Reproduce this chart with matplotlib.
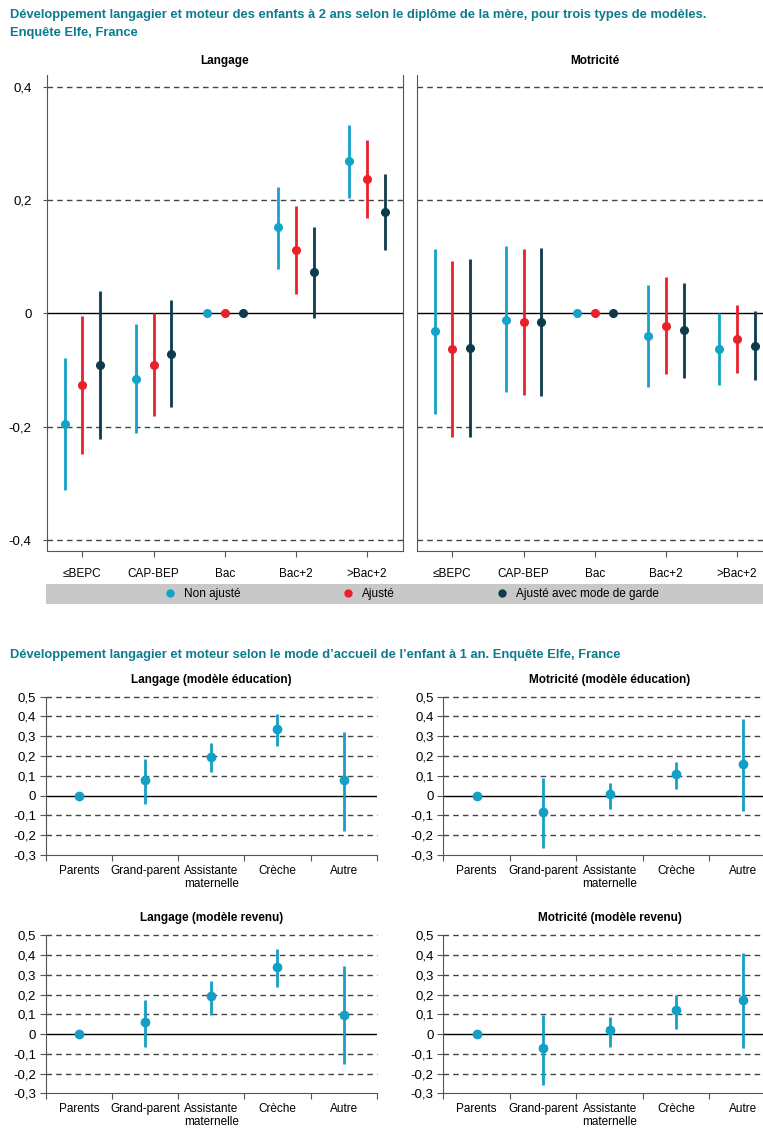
import matplotlib
matplotlib.use('Agg')
import matplotlib.pyplot as plt
from matplotlib import font_manager
from matplotlib.lines import Line2D
import numpy as np

# --- data : diplome de la mere ---
cats_dip = ['≤BEPC', 'CAP-BEP', 'Bac', 'Bac+2', '>Bac+2']
series = ['Non ajusté', 'Ajusté', 'Ajusté avec mode de garde']

lang_na = [-0.196, -0.116, 0, 0.152, 0.268]
lang_na_lo = [-0.312, -0.212, 0, 0.079, 0.204]
lang_na_hi = [-0.079, -0.019, 0, 0.223, 0.332]
lang_aj = [-0.127, -0.092, 0, 0.112, 0.237]
lang_aj_lo = [-0.249, -0.182, 0, 0.034, 0.169]
lang_aj_hi = [-0.005, 0.0, 0, 0.190, 0.306]
lang_mg = [-0.091, -0.071, 0, 0.073, 0.179]
lang_mg_lo = [-0.222, -0.165, 0, -0.008, 0.112]
lang_mg_hi = [0.040, 0.024, 0, 0.153, 0.246]

mot_na = [-0.032, -0.011, 0, -0.040, -0.063]
mot_na_lo = [-0.178, -0.139, 0, -0.130, -0.126]
mot_na_hi = [0.114, 0.118, 0, 0.050, 0.0]
mot_aj = [-0.063, -0.016, 0, -0.022, -0.045]
mot_aj_lo = [-0.219, -0.145, 0, -0.108, -0.105]
mot_aj_hi = [0.092, 0.114, 0, 0.064, 0.015]
mot_mg = [-0.061, -0.016, 0, -0.029, -0.057]
mot_mg_lo = [-0.218, -0.146, 0, -0.114, -0.118]
mot_mg_hi = [0.096, 0.115, 0, 0.053, 0.004]

# --- data : mode d'accueil ---
cats_acc = ['Parents', 'Grand-parent', 'Assistante\nmaternelle', 'Crèche', 'Autre']

le_val = [0, 0.078, 0.196, 0.338, 0.078]
le_lo = [0, -0.041, 0.117, 0.250, -0.177]
le_hi = [0, 0.184, 0.264, 0.412, 0.323]
me_val = [0, -0.084, 0.007, 0.108, 0.162]
me_lo = [0, -0.267, -0.069, 0.035, -0.076]
me_hi = [0, 0.090, 0.064, 0.172, 0.385]
lr_val = [0, 0.061, 0.191, 0.341, 0.098]
lr_lo = [0, -0.066, 0.095, 0.238, -0.154]
lr_hi = [0, 0.172, 0.270, 0.431, 0.343]
mr_val = [0, -0.073, 0.022, 0.122, 0.174]
mr_lo = [0, -0.258, -0.064, 0.024, -0.069]
mr_hi = [0, 0.098, 0.088, 0.198, 0.409]

colors = ['#14a3c8', '#e8212b', '#0c3b4c']
teal = '#0a7b8c'
blue = '#139fc6'

names = {f.name for f in font_manager.fontManager.ttflist}
fam = 'Liberation Sans Narrow' if 'Liberation Sans Narrow' in names else 'Liberation Sans'
plt.rcParams['font.family'] = [fam, 'DejaVu Sans']

W, H = 763, 1132
fig = plt.figure(figsize=(W / 100, H / 100), dpi=100)


def box(l, t, r, b):
    return [l / W, 1 - b / H, (r - l) / W, (b - t) / H]


def px(x, y):
    return x / W, 1 - y / H


dash = (0, (4, 3))

# ---------- top panels ----------
fig.text(*px(10, 15), 'Développement langagier et moteur des enfants à 2 ans selon le diplôme de la mère, pour trois types de modèles.',
         color=teal, fontsize=9.3, fontweight='bold', va='center')
fig.text(*px(10, 33), 'Enquête Elfe, France', color=teal, fontsize=9.3, fontweight='bold', va='center')

top_data = [
    ('Langage', [(lang_na, lang_na_lo, lang_na_hi), (lang_aj, lang_aj_lo, lang_aj_hi), (lang_mg, lang_mg_lo, lang_mg_hi)]),
    ('Motricité', [(mot_na, mot_na_lo, mot_na_hi), (mot_aj, mot_aj_lo, mot_aj_hi), (mot_mg, mot_mg_lo, mot_mg_hi)]),
]
top_boxes = [box(46.7, 75.3, 402.7, 551.3), box(416.7, 75.3, 772.7, 551.3)]
x = np.arange(len(cats_dip))
offsets = [-0.25, 0, 0.25]

for i, (title, sdata) in enumerate(top_data):
    ax = fig.add_axes(top_boxes[i])
    ax.set_xlim(-0.5, 4.5)
    ax.set_ylim(-0.42, 0.42)
    for yv in [-0.4, -0.2, 0.2, 0.4]:
        ax.axhline(yv, color='#444444', lw=1, linestyle=dash, zorder=1)
    ax.axhline(0, color='black', lw=1, zorder=2)
    for k, (v, lo, hi) in enumerate(sdata):
        xs = x + offsets[k]
        ax.vlines(xs, lo, hi, color=colors[k], lw=2, zorder=3)
        ax.plot(xs, v, 'o', color=colors[k], ms=5.5, zorder=4, linestyle='none')
    ax.set_xticks(x)
    ax.set_xticklabels(cats_dip, fontsize=8.5)
    ax.tick_params(axis='x', length=4, color='#555555', pad=8)
    ax.set_yticks([-0.4, -0.2, 0, 0.2, 0.4])
    if i == 0:
        ax.set_yticklabels(['-0,4', '-0,2', '0', '0,2', '0,4'], fontsize=9.5)
        ax.tick_params(axis='y', length=3, color='#555555', pad=8)
    else:
        ax.tick_params(axis='y', length=0, labelleft=False)
    ax.spines['top'].set_visible(False)
    if i == 1:
        ax.spines['right'].set_visible(False)
    for s in ['left', 'right', 'bottom']:
        ax.spines[s].set_color('#555555')
    ax.set_title(title, fontsize=8.5, fontweight='bold', pad=8)

# legend band
lax = fig.add_axes(box(46, 584, 780, 604))
lax.set_facecolor('#c8c8c8')
lax.set_xticks([])
lax.set_yticks([])
for s in lax.spines.values():
    s.set_visible(False)
handles = [Line2D([], [], marker='o', color=c, linestyle='none', ms=5) for c in colors]
lax.legend(handles, series, loc='center', bbox_to_anchor=((411 - 46) / (780 - 46), 0.5),
           ncol=3, frameon=False, fontsize=8.5, columnspacing=8.5, handletextpad=0.6, handlelength=1.2,
           borderpad=0, borderaxespad=0)

# ---------- bottom panels ----------
fig.text(*px(10, 655), "Développement langagier et moteur selon le mode d’accueil de l’enfant à 1 an. Enquête Elfe, France",
         color=teal, fontsize=9.3, fontweight='bold', va='center')

bot = [
    ('Langage (modèle éducation)', le_val, le_lo, le_hi, box(46, 696.7, 376.7, 855)),
    ('Motricité (modèle éducation)', me_val, me_lo, me_hi, box(443.3, 696.7, 776, 855)),
    ('Langage (modèle revenu)', lr_val, lr_lo, lr_hi, box(46, 935.3, 376.7, 1093.3)),
    ('Motricité (modèle revenu)', mr_val, mr_lo, mr_hi, box(443.3, 935.3, 776, 1093.3)),
]
xc = np.arange(len(cats_acc)) + 0.5
for title, v, lo, hi, pos in bot:
    ax = fig.add_axes(pos)
    ax.set_xlim(0, 5)
    ax.set_ylim(-0.3, 0.5)
    for yv in [-0.2, -0.1, 0.1, 0.2, 0.3, 0.4, 0.5]:
        ax.axhline(yv, color='#444444', lw=1, linestyle=dash, zorder=1, clip_on=False)
    ax.axhline(0, color='black', lw=1, zorder=2)
    ax.vlines(xc, lo, hi, color=blue, lw=2, zorder=3)
    ax.plot(xc, v, 'o', color=blue, ms=6, zorder=4, linestyle='none')
    ax.set_xticks(np.arange(6))
    ax.set_xticklabels([])
    ax.set_xticks(xc, minor=True)
    ax.set_xticklabels(cats_acc, minor=True, fontsize=8.5, linespacing=1.15)
    ax.tick_params(axis='x', which='major', length=4, color='#555555')
    ax.tick_params(axis='x', which='minor', length=0, pad=7)
    ax.set_yticks(np.arange(-3, 6) / 10)
    ax.set_yticklabels(['-0,3', '-0,2', '-0,1', '0', '0,1', '0,2', '0,3', '0,4', '0,5'], fontsize=9.5)
    ax.tick_params(axis='y', length=4, color='#555555', pad=3)
    ax.spines['top'].set_visible(False)
    ax.spines['right'].set_visible(False)
    ax.spines['left'].set_color('#555555')
    ax.spines['bottom'].set_color('#555555')
    ax.set_title(title, fontsize=8.5, fontweight='bold', pad=10)

fig.savefig('out.png', dpi=100)
